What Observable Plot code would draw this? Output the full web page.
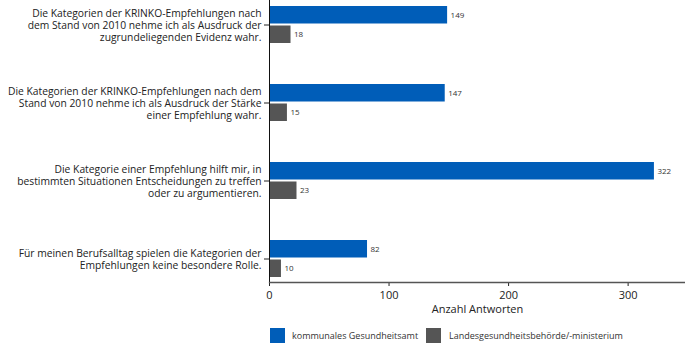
<!DOCTYPE html>
<html><head><meta charset="utf-8">
<script src="https://cdn.jsdelivr.net/npm/d3@7"></script>
<script src="https://cdn.jsdelivr.net/npm/@observablehq/plot@0.6"></script>
<style>
body{margin:0;background:#fff;font-family:"Open Sans",sans-serif;}
#legend{position:relative;height:23px;font-size:9px;color:#333;white-space:nowrap;margin-top:8px;}
#legend .sw{position:absolute;top:0;width:15px;height:15px;}
#legend .lt{position:absolute;top:0;line-height:15px;}
</style></head>
<body><div id="chart"></div><div id="legend"></div>
<script>
const categories = [
  "Die Kategorien der KRINKO-Empfehlungen nach\ndem Stand von 2010 nehme ich als Ausdruck der\nzugrundeliegenden Evidenz wahr.",
  "Die Kategorien der KRINKO-Empfehlungen nach dem\nStand von 2010 nehme ich als Ausdruck der Stärke\neiner Empfehlung wahr.",
  "Die Kategorie einer Empfehlung hilft mir, in\nbestimmten Situationen Entscheidungen zu treffen\noder zu argumentieren.",
  "Für meinen Berufsalltag spielen die Kategorien der\nEmpfehlungen keine besondere Rolle."
];
const kommunal = [149, 147, 322, 82];
const landes = [18, 15, 23, 10];
const seriesNames = ["kommunales Gesundheitsamt", "Landesgesundheitsbehörde/-ministerium"];
const seriesColors = ["#005db8", "#555555"];
const xTicks = [0, 100, 200, 300];

const dataK = categories.map((c, i) => ({cat: c, v: kommunal[i]}));
const dataL = categories.map((c, i) => ({cat: c, v: landes[i]}));

const plot = Plot.plot({
  width: 685, height: 320,
  marginLeft: 269, marginRight: 0, marginTop: 0, marginBottom: 38,
  style: {fontFamily: "'Open Sans', sans-serif", fontSize: "11px", color: "#222"},
  x: {domain: [0, 348]},
  y: {domain: categories, paddingInner: 0.526, paddingOuter: 0.07},
  marks: [
    Plot.barX(dataK, {y: "cat", x: "v", fill: seriesColors[0], insetBottom: 19.5}),
    Plot.barX(dataL, {y: "cat", x: "v", fill: seriesColors[1], insetTop: 19.5}),
    Plot.text(dataK, {y: "cat", x: "v", text: d => String(d.v), textAnchor: "start", dx: 3, dy: -9.5, fontSize: 8, fill: "#333"}),
    Plot.text(dataL, {y: "cat", x: "v", text: d => String(d.v), textAnchor: "start", dx: 3, dy: 9.5, fontSize: 8, fill: "#333"}),
    Plot.axisY({tickSize: 5, tickPadding: 3, fontSize: 10.3, lineHeight: 1.15, label: null}),
    Plot.axisX({ticks: xTicks, tickSize: 4, fontSize: 11, label: "Anzahl Antworten", labelAnchor: "center", labelArrow: "none", labelOffset: 30}),
    Plot.ruleX([0], {stroke: "#111"}),
    Plot.frame({anchor: "bottom", stroke: "#555", strokeWidth: 1.3})
  ]
});
document.getElementById("chart").append(plot);

const leg = document.getElementById("legend");
const swX = [270, 426], txtX = [292, 449];
seriesNames.forEach((n, i) => {
  const sw = document.createElement("span"); sw.className = "sw"; sw.style.background = seriesColors[i]; sw.style.left = swX[i] + "px";
  const t = document.createElement("span"); t.className = "lt"; t.textContent = n; t.style.left = txtX[i] + "px";
  leg.append(sw, t);
});
</script></body></html>
